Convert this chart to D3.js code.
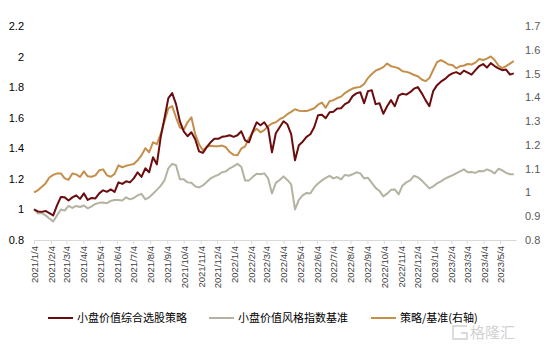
<!DOCTYPE html>
<html><head><meta charset="utf-8">
<script src="https://cdn.jsdelivr.net/npm/d3@7"></script>
<style>body{margin:0;background:#fff}svg{display:block}</style>
</head><body><svg id="c" width="552" height="348"></svg>
<script>
// ---- data (weekly, Mondays from 2021/1/4) ----
const strategyVals = [1.000,0.987,0.984,0.990,0.976,0.961,1.026,1.082,1.079,1.059,
1.079,1.092,1.069,1.105,1.062,1.075,1.072,1.105,1.125,1.115,
1.131,1.115,1.177,1.167,1.184,1.177,1.203,1.243,1.213,1.269,
1.243,1.341,1.295,1.472,1.597,1.728,1.761,1.689,1.577,1.511,
1.479,1.505,1.459,1.380,1.370,1.407,1.439,1.462,1.462,1.475,
1.479,1.485,1.475,1.485,1.511,1.452,1.439,1.511,1.570,1.551,
1.570,1.531,1.374,1.498,1.538,1.577,1.557,1.492,1.321,1.420,
1.443,1.475,1.492,1.538,1.616,1.620,1.597,1.636,1.639,1.660,
1.662,1.689,1.702,1.741,1.759,1.767,1.695,1.774,1.780,1.689,
1.695,1.626,1.675,1.715,1.675,1.744,1.757,1.751,1.767,1.790,
1.800,1.761,1.715,1.675,1.774,1.813,1.836,1.852,1.875,1.890,
1.898,1.885,1.908,1.895,1.882,1.911,1.938,1.951,1.928,1.957,
1.938,1.923,1.911,1.915,1.882,1.890];
const benchmarkVals = [1.000,0.974,0.976,0.961,0.941,0.921,0.961,1.000,0.993,1.023,
1.010,1.023,1.016,1.026,1.007,1.020,1.036,1.043,1.046,1.041,
1.056,1.062,1.062,1.059,1.079,1.066,1.075,1.092,1.102,1.066,
1.079,1.103,1.128,1.154,1.190,1.269,1.298,1.289,1.197,1.197,
1.177,1.174,1.151,1.144,1.157,1.180,1.203,1.216,1.226,1.243,
1.249,1.269,1.282,1.298,1.279,1.190,1.190,1.213,1.233,1.230,
1.236,1.203,1.105,1.174,1.193,1.216,1.193,1.164,1.000,1.062,
1.092,1.108,1.105,1.144,1.170,1.190,1.207,1.220,1.203,1.212,
1.197,1.226,1.220,1.230,1.243,1.236,1.203,1.207,1.174,1.141,
1.121,1.085,1.103,1.128,1.131,1.098,1.157,1.177,1.190,1.220,
1.210,1.190,1.164,1.138,1.151,1.170,1.184,1.200,1.212,1.223,
1.236,1.249,1.262,1.243,1.245,1.239,1.252,1.249,1.262,1.252,
1.236,1.266,1.256,1.239,1.230,1.230];
const ratioVals = [1.000,1.009,1.023,1.038,1.063,1.074,1.080,1.080,1.059,1.053,
1.080,1.076,1.065,1.089,1.068,1.066,1.072,1.093,1.097,1.072,
1.066,1.078,1.114,1.106,1.112,1.116,1.120,1.135,1.156,1.186,
1.169,1.211,1.203,1.245,1.300,1.354,1.363,1.316,1.274,1.264,
1.295,1.316,1.245,1.203,1.177,1.192,1.196,1.194,1.194,1.197,
1.190,1.170,1.158,1.156,1.184,1.194,1.228,1.253,1.268,1.253,
1.262,1.279,1.290,1.295,1.308,1.316,1.329,1.339,1.350,1.344,
1.342,1.342,1.348,1.354,1.369,1.378,1.356,1.384,1.388,1.397,
1.403,1.418,1.428,1.437,1.441,1.444,1.456,1.481,1.498,1.512,
1.519,1.527,1.542,1.531,1.527,1.522,1.510,1.507,1.502,1.494,
1.489,1.475,1.468,1.481,1.515,1.548,1.557,1.548,1.538,1.536,
1.522,1.531,1.534,1.540,1.538,1.546,1.561,1.557,1.563,1.572,
1.557,1.534,1.523,1.531,1.542,1.553];
const xTickLabels = ["2021/1/4","2021/2/4","2021/3/4","2021/4/4","2021/5/4","2021/6/4","2021/7/4","2021/8/4","2021/9/4","2021/10/4","2021/11/4","2021/12/4",
"2022/1/4","2022/2/4","2022/3/4","2022/4/4","2022/5/4","2022/6/4","2022/7/4","2022/8/4","2022/9/4","2022/10/4","2022/11/4","2022/12/4",
"2023/1/4","2023/2/4","2023/3/4","2023/4/4","2023/5/4"];
const leftTicks = [0.8,1,1.2,1.4,1.6,1.8,2,2.2];
const rightTicks = [0.8,0.9,1,1.1,1.2,1.3,1.4,1.5,1.6,1.7];
const seriesNames = ["小盘价值综合选股策略","小盘价值风格指数基准","策略/基准(右轴)"];
const seriesColors = ["#6b0c0f","#b4b2a0","#c58f4b"];

const dates = d3.timeMonday.range(new Date(2021,0,4), new Date(2023,5,1));
const parse = s => { const p = s.split("/").map(Number); return new Date(p[0], p[1]-1, p[2]); };
const tickDates = xTickLabels.map(parse);

const svg = d3.select("#c");
const x = d3.scaleTime().domain([new Date(2021,0,4), new Date(2023,5,2)]).range([34,516]);
const yL = d3.scaleLinear().domain([0.8,2.2]).range([240,26]);
const yR = d3.scaleLinear().domain([0.8,1.7]).range([240,26]);
const font = "'Liberation Sans', Arial, sans-serif";

// x axis
const gx = svg.append("g").attr("transform","translate(0,240)")
  .call(d3.axisBottom(x).tickValues(tickDates).tickSize(4).tickSizeOuter(0)
    .tickFormat((d,i)=>xTickLabels[i]));
gx.select(".domain").attr("stroke","#d9d9d9");
gx.selectAll(".tick line").attr("stroke","#d9d9d9");
gx.selectAll(".tick text").attr("transform","rotate(-90)").attr("x",-6).attr("y",0)
  .attr("dy","0.36em").style("text-anchor","end")
  .style("font-family",font).style("font-size","9.5px").attr("fill","#404040");

// left axis
const gl = svg.append("g").attr("transform","translate(27,0)")
  .call(d3.axisLeft(yL).tickValues(leftTicks).tickSize(0).tickPadding(3).tickFormat(d=>String(d)));
gl.select(".domain").remove();
gl.selectAll("text").style("font-family",font).style("font-size","11px").attr("fill","#000");

// right axis
const gr = svg.append("g").attr("transform","translate(522,0)")
  .call(d3.axisRight(yR).tickValues(rightTicks).tickSize(0).tickPadding(3).tickFormat(d=>String(d)));
gr.select(".domain").remove();
gr.selectAll("text").style("font-family",font).style("font-size","11px").attr("fill","#595959");

// lines
const mk = (vals, ys) => d3.line().x((d,i)=>x(dates[i])).y(d=>ys(d))(vals);
svg.append("path").attr("d", mk(benchmarkVals, yL)).attr("fill","none")
  .attr("stroke",seriesColors[1]).attr("stroke-width",2).attr("stroke-linejoin","round");
svg.append("path").attr("d", mk(ratioVals, yR)).attr("fill","none")
  .attr("stroke",seriesColors[2]).attr("stroke-width",2).attr("stroke-linejoin","round");
svg.append("path").attr("d", mk(strategyVals, yL)).attr("fill","none")
  .attr("stroke",seriesColors[0]).attr("stroke-width",2).attr("stroke-linejoin","round");

// legend
const legX = [48, 209, 371];
const lg = svg.append("g");
seriesNames.forEach((n,i)=>{
  lg.append("line").attr("x1",legX[i]).attr("x2",legX[i]+25).attr("y1",318).attr("y2",318)
    .attr("stroke",seriesColors[i]).attr("stroke-width",2);
  lg.append("text").attr("x",legX[i]+29).attr("y",318).attr("dy","0.36em")
    .style("font-family","'Noto Sans CJK SC', sans-serif").style("font-size","11px")
    .attr("fill","#000").text(n);
});

// watermark
const wm = svg.append("g").attr("fill","none").attr("stroke","#cfcfcf").attr("stroke-width",1.4);
wm.append("path").attr("d","M467,326 L453,326 L453,339 L467,339 L467,333 L461,333");
svg.append("text").attr("x",470).attr("y",333).attr("dy","0.36em")
  .style("font-family","'Noto Sans CJK SC', sans-serif").style("font-size","15px")
  .attr("fill","#d2d2d2").text("格隆汇");
</script></body></html>
